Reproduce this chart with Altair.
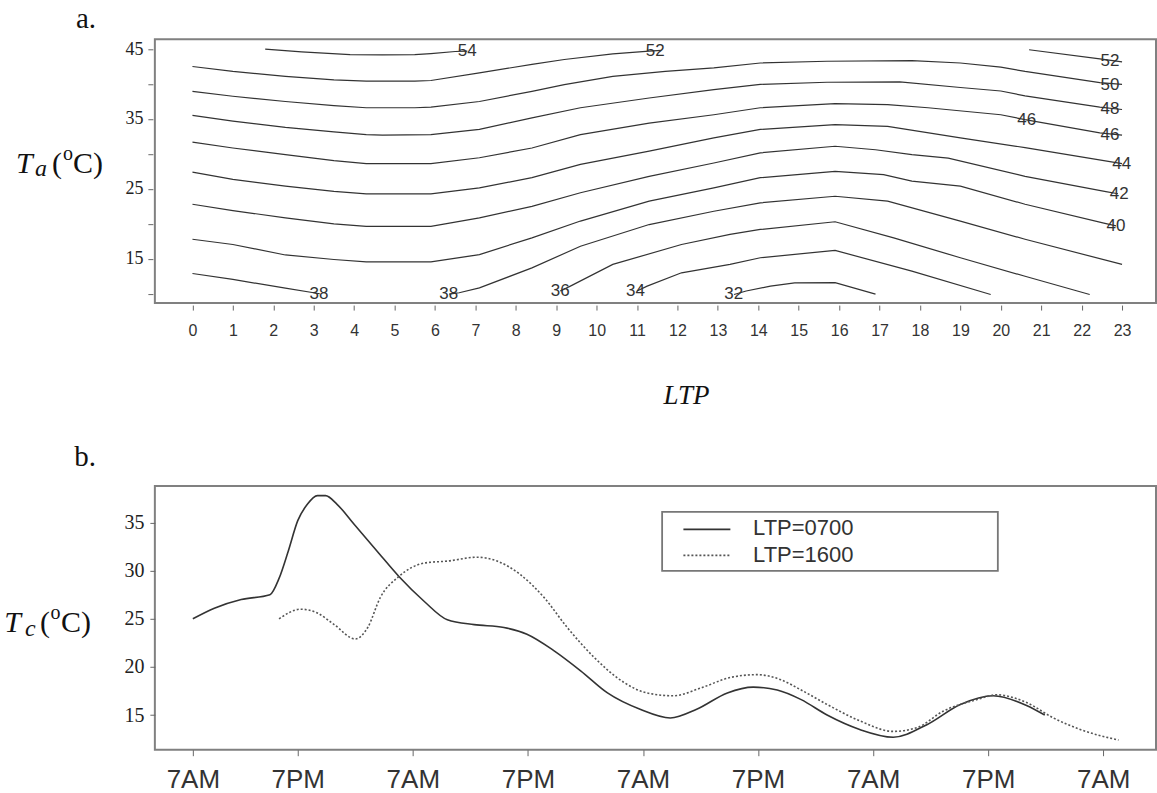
import altair as alt
import pandas as pd

SANS = "Liberation Sans"
SERIF = "Liberation Serif"

# ---------------- panel a: Tc contours over (LTP, Ta) ----------------
# each piece is a list of (LTP hour, Ta) points along one contour line
C54 = [(1.8, 45.0), (2.7, 44.6), (3.9, 44.2), (4.7, 44.15), (5.5, 44.2), (5.9, 44.35), (6.5, 44.65), (6.8, 44.7)]
C52_A = [(0, 42.5), (1.0, 41.8), (2.3, 41.1), (3.5, 40.6), (4.3, 40.4), (5.5, 40.4), (5.9, 40.5), (7.1, 41.6),
         (8.4, 42.8), (9.2, 43.5), (10.4, 44.3), (11.3, 44.7), (11.6, 44.8)]
C52_B = [(20.7, 44.9), (22.45, 43.6), (23.0, 43.15)]
C50 = [(0, 38.95), (1.0, 38.25), (2.3, 37.5), (3.5, 36.9), (4.3, 36.6), (5.5, 36.6), (5.9, 36.7), (7.1, 37.5),
       (8.4, 38.95), (9.2, 39.9), (10.4, 41.1), (11.7, 41.8), (12.9, 42.3), (14.05, 43.0), (15.7, 43.25),
       (17.8, 43.35), (19.0, 43.0), (20.0, 42.4), (20.6, 41.8), (22.45, 40.2), (23.0, 39.95)]
C48 = [(0, 35.5), (1.0, 34.7), (2.3, 33.8), (3.5, 33.15), (4.3, 32.75), (4.7, 32.7), (5.9, 32.75), (7.1, 33.5),
       (8.4, 35.15), (9.6, 36.6), (11.3, 38.0), (12.9, 39.2), (14.05, 39.95), (15.7, 40.25), (17.5, 40.3),
       (19.0, 39.5), (20.0, 39.0), (20.6, 38.3), (22.45, 36.7), (23.0, 36.35)]
C46 = [(0, 31.7), (1.0, 30.85), (2.3, 29.9), (3.5, 29.05), (4.3, 28.6), (5.9, 28.6), (7.1, 29.45), (8.4, 30.85),
       (9.6, 32.75), (11.3, 34.4), (12.9, 35.6), (14.05, 36.6), (15.9, 37.2), (17.2, 37.05), (18.2, 36.6),
       (20.0, 35.6), (20.6, 34.9), (22.45, 33.0), (23.0, 32.7)]
C44 = [(0, 27.4), (1.0, 26.35), (2.3, 25.4), (3.5, 24.65), (4.3, 24.3), (5.9, 24.3), (7.1, 25.15), (8.4, 26.6),
       (9.6, 28.5), (11.3, 30.4), (12.9, 32.3), (14.05, 33.5), (15.9, 34.2), (17.2, 33.95), (19.0, 32.3),
       (20.6, 30.9), (22.7, 28.9), (23.0, 28.6)]
C42 = [(0, 22.8), (1.0, 21.9), (2.3, 20.85), (3.5, 20.0), (4.3, 19.65), (5.9, 19.65), (7.1, 20.85), (8.4, 22.5),
       (9.6, 24.45), (11.3, 26.8), (12.9, 28.7), (14.05, 30.15), (15.9, 31.1), (16.9, 30.6), (17.8, 29.9),
       (18.7, 29.4), (20.6, 26.8), (22.6, 24.6), (22.9, 24.3)]
C40 = [(0, 17.8), (1.0, 17.05), (2.3, 15.55), (3.5, 14.9), (4.3, 14.55), (5.9, 14.55), (7.1, 15.6), (8.4, 18.0),
       (9.6, 20.4), (11.3, 23.25), (12.9, 25.15), (14.05, 26.6), (15.9, 27.5), (17.1, 27.05), (17.8, 26.1),
       (19.0, 25.4), (20.6, 22.8), (22.55, 20.1), (22.85, 19.7)]
C38_A = [(0, 12.9), (1.0, 12.05), (2.3, 10.8), (3.0, 10.15), (3.15, 10.0)]
C38_B = [(6.35, 9.95), (6.6, 10.15), (7.1, 10.85), (8.4, 13.7), (9.6, 16.8), (11.3, 19.9), (12.9, 21.8),
         (14.05, 23.0), (15.9, 23.95), (17.2, 23.25), (19.0, 20.4), (20.6, 17.8), (23.0, 14.2)]
C36 = [(9.1, 10.4), (9.35, 11.1), (10.4, 14.2), (12.1, 17.05), (13.3, 18.5), (14.05, 19.2), (15.9, 20.3),
       (17.35, 18.0), (19.0, 15.15), (20.6, 12.5), (22.2, 9.9)]
C34 = [(11.0, 10.4), (11.25, 11.1), (12.1, 13.0), (13.3, 14.2), (14.05, 15.15), (15.9, 16.2), (17.8, 13.25),
       (19.75, 9.9)]
C32 = [(13.4, 9.9), (13.7, 10.4), (14.3, 11.1), (14.9, 11.55), (15.9, 11.6), (16.9, 9.95)]

CONTOUR_PIECES = {
    "54": C54, "52a": C52_A, "52b": C52_B, "50": C50, "48": C48, "46": C46, "44": C44,
    "42": C42, "40": C40, "38a": C38_A, "38b": C38_B, "36": C36, "34": C34, "32": C32,
}

# contour level labels and where they sit on the lines
LABEL_TEXT = ["54", "52", "38", "38", "36", "34", "32", "52", "50", "48", "46", "46", "44", "42", "40"]
LABEL_LTP = [6.8, 11.45, 3.13, 6.34, 9.1, 10.96, 13.39, 22.7, 22.7, 22.7, 20.64, 22.7, 22.99, 22.93, 22.85]
LABEL_TA = [44.7, 44.7, 9.9, 9.9, 10.4, 10.4, 9.9, 43.35, 39.9, 36.45, 34.8, 32.75, 28.6, 24.3, 19.7]

LTP_TICKS = list(range(24))
TA_TICKS = [10, 15, 20, 25, 30, 35, 40, 45]

# ---------------- panel b: Tc time series ----------------
HOUR_0700 = [1.06, 3.3, 6.1, 9.1, 10.05, 11.0, 12.0, 13.0, 14.05, 14.9, 16.1, 17.9, 20.3, 22.55, 25.2, 27.6,
             30.4, 33.5, 35.9, 38.7, 41.5, 44.3, 47.7, 50.85, 53.6, 56.8, 59.5, 62.0, 64.5, 67.2, 70.6, 74.1,
             77.6, 81.1, 84.5, 88.0, 89.9]
TC_0700 = [25.0, 26.1, 27.0, 27.5, 29.2, 32.0, 35.2, 36.9, 37.8, 37.8, 36.9, 34.8, 32.0, 29.4, 26.8, 24.9,
           24.4, 24.1, 23.4, 21.7, 19.6, 17.3, 15.6, 14.7, 15.6, 17.3, 17.9, 17.6, 16.6, 15.0, 13.5, 12.7,
           14.0, 16.1, 17.0, 16.0, 15.0]
HOUR_1600 = [10.05, 12.3, 14.05, 15.8, 18.0, 19.3, 20.6, 22.55, 25.2, 27.6, 30.7, 32.8, 35.2, 37.7, 40.1,
             42.9, 46.0, 48.4, 51.2, 54.0, 57.1, 59.9, 62.3, 64.5, 67.2, 70.6, 74.1, 76.6, 79.3, 82.8, 84.9,
             88.0, 90.8, 93.6, 97.6]
TC_1600 = [25.0, 26.0, 25.6, 24.4, 22.9, 24.1, 27.2, 29.4, 30.8, 31.0, 31.4, 31.0, 29.6, 27.2, 24.1,
           21.0, 18.4, 17.3, 17.0, 17.8, 18.9, 19.2, 18.7, 17.6, 16.1, 14.4, 13.3, 13.7, 15.4, 16.6, 17.1,
           16.3, 14.7, 13.5, 12.4]

TIME_TICKS = [1.06, 12, 24, 36, 48, 60, 72, 84, 96]
TIME_LABELS = ["7AM", "7PM", "7AM", "7PM", "7AM", "7PM", "7AM", "7PM", "7AM"]
TC_TICKS = [15, 20, 25, 30, 35]

# ---------------- tables ----------------
contour_rows = []
for name, pts in CONTOUR_PIECES.items():
    for i, (h, t) in enumerate(pts):
        contour_rows.append({"piece": name, "i": i, "ltp": h, "ta": t})
contour_df = pd.DataFrame(contour_rows)
label_df = pd.DataFrame({"ltp": LABEL_LTP, "ta": LABEL_TA, "lab": LABEL_TEXT})

series_df = pd.concat([
    pd.DataFrame({"hour": HOUR_0700, "tc": TC_0700, "ltp": "LTP=0700"}),
    pd.DataFrame({"hour": HOUR_1600, "tc": TC_1600, "ltp": "LTP=1600"}),
])

one = pd.DataFrame({"k": [0]})


def deco_text(text, x, y, size, style="normal", family=SERIF, align="left",
              baseline="alphabetic", color="#111111", opacity=1):
    return alt.Chart(one).mark_text(
        text=text, align=align, baseline=baseline, font=family, fontSize=size,
        fontStyle=style, color=color, opacity=opacity,
    ).encode(x=alt.value(x), y=alt.value(y))


W, H = 1002, 264

# ---------------- panel a ----------------
xa = alt.X("ltp:Q",
           scale=alt.Scale(domain=[-0.93, 23.84], nice=False, zero=False),
           axis=alt.Axis(values=LTP_TICKS, title=None, offset=2, tickSize=5, labelPadding=12,
                         domain=False, grid=False, labelFont=SANS, labelFontSize=16,
                         labelColor="#333333", tickColor="#666666", labelFlush=False))
ya = alt.Y("ta:Q",
           scale=alt.Scale(domain=[8.67, 46.39], nice=False, zero=False),
           axis=alt.Axis(values=TA_TICKS, title=None, offset=2, tickSize=5, labelPadding=5,
                         labelExpr="datum.value % 10 == 5 ? datum.label : ''",
                         domain=False, grid=False, labelFont=SERIF, labelFontSize=18,
                         labelColor="#222222", tickColor="#666666", labelFlush=False))

contours = alt.Chart(contour_df).mark_line(color="#333333", strokeWidth=1.2).encode(
    x=xa, y=ya, detail="piece:N", order="i:Q")
contour_labels = alt.Chart(label_df).mark_text(
    font=SANS, fontSize=17, color="#333333", align="center", baseline="middle"
).encode(x=xa, y=ya, text="lab:N")

panel_a = alt.layer(
    contours,
    contour_labels,
    deco_text(".", -154, -38, 10, baseline="top", opacity=0),
    deco_text("a.", -79, -11.3, 29),
    deco_text("LTP", 532, 365, 27, style="italic", align="center"),
    deco_text("T", -139, 133.7, 30, style="italic"),
    deco_text("a", -120, 137, 24, style="italic"),
    deco_text("(", -103, 133.7, 30),
    deco_text("o", -92, 120.3, 20),
    deco_text("C)", -82, 133.7, 30),
).properties(width=W, height=H)

# ---------------- panel b ----------------
time_expr = "".join(
    f"datum.value == {h} ? '{lab}' : " for h, lab in zip(TIME_TICKS, TIME_LABELS)
) + "''"

xb = alt.X("hour:Q",
           scale=alt.Scale(domain=[-2.9, 101.5], nice=False, zero=False),
           axis=alt.Axis(values=TIME_TICKS, labelExpr=time_expr, title=None, tickSize=6,
                         labelPadding=11, domain=False, grid=False, labelFont=SANS,
                         labelFontSize=26, labelColor="#333333", tickColor="#666666",
                         labelFlush=False))
yb = alt.Y("tc:Q",
           scale=alt.Scale(domain=[11.4, 38.81], nice=False, zero=False),
           axis=alt.Axis(values=TC_TICKS, title=None, tickSize=5, labelPadding=6,
                         domain=False, grid=False, labelFont=SERIF, labelFontSize=20,
                         labelColor="#222222", tickColor="#666666", labelFlush=False))

solid = alt.Chart(series_df).transform_filter(alt.datum.ltp == "LTP=0700").mark_line(
    color="#333333", strokeWidth=1.6, interpolate="monotone").encode(x=xb, y=yb, order="hour:Q")
dotted = alt.Chart(series_df).transform_filter(alt.datum.ltp == "LTP=1600").mark_line(
    color="#555555", strokeWidth=1.6, strokeDash=[2, 2], interpolate="monotone").encode(
    x=xb, y=yb, order="hour:Q")

legend_box = alt.Chart(one).mark_rect(fill="white", stroke="#777777", strokeWidth=1.8).encode(
    x=alt.value(507.7), x2=alt.value(843.7), y=alt.value(26), y2=alt.value(85))
legend_solid = alt.Chart(one).mark_rule(color="#333333", strokeWidth=1.6).encode(
    x=alt.value(529), x2=alt.value(576), y=alt.value(43.5))
legend_dotted = alt.Chart(one).mark_rule(color="#555555", strokeWidth=1.6, strokeDash=[2, 2]).encode(
    x=alt.value(529), x2=alt.value(576), y=alt.value(69.5))

panel_b = alt.layer(
    legend_box,
    legend_solid,
    legend_dotted,
    deco_text("LTP=0700", 598.7, 42.5, 22, family=SANS, baseline="middle", color="#333333"),
    deco_text("LTP=1600", 598.7, 69.5, 22, family=SANS, baseline="middle", color="#333333"),
    solid,
    dotted,
    deco_text("b.", -80.7, -20, 29),
    deco_text("T", -150.7, 146.7, 30, style="italic"),
    deco_text("c", -130, 150, 24, style="italic"),
    deco_text("(", -115, 146.7, 30),
    deco_text("o", -104.5, 133, 20),
    deco_text("C)", -94, 146.7, 30),
).properties(width=W, height=H)

chart = alt.vconcat(panel_a, panel_b, spacing=183, bounds="flush").resolve_scale(
    x="independent", y="independent"
).configure_view(stroke="#808080", strokeWidth=2).properties(
    padding=0, background="white")

chart.save("out.html", embed_options={"renderer": "svg", "actions": False})
